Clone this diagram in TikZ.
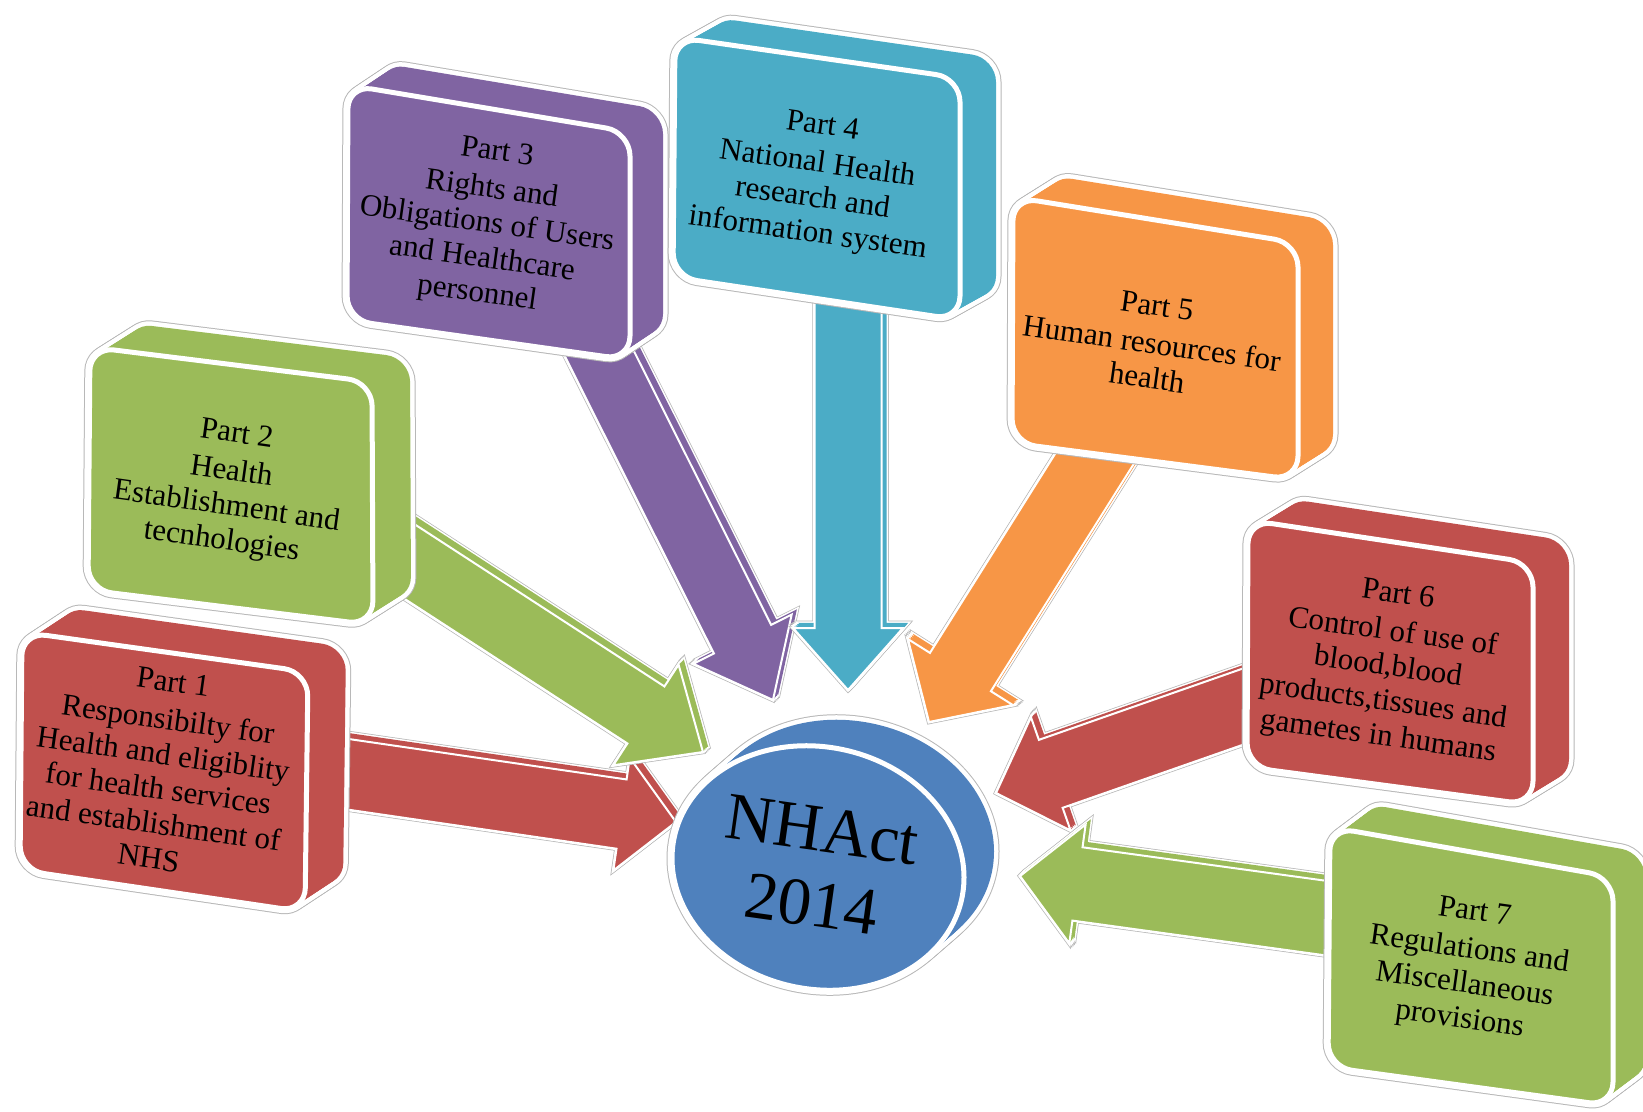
\documentclass[tikz,border=0pt]{standalone}
\usepackage{fontspec}
\setmainfont{Liberation Serif}
\usetikzlibrary{calc}
\definecolor{cred}{HTML}{C0504D}
\definecolor{cgreen}{HTML}{9BBB59}
\definecolor{cpurple}{HTML}{8064A2}
\definecolor{cteal}{HTML}{4BACC6}
\definecolor{corange}{HTML}{F79646}
\definecolor{cblue}{HTML}{4F81BD}
\newdimen\arrAx \newdimen\arrAy \newdimen\arrBx \newdimen\arrBy
\tikzset{
  boxline/.style={draw=black!28, line width=11pt, line join=round, rounded corners=24pt},
  boxwhite/.style={draw=white, line width=9pt, line join=round, rounded corners=24pt},
  boxfill/.style={rounded corners=24pt},
  arrline/.style={draw=black!28, line width=4.5pt, line join=miter},
  arrwhite/.style={draw=white, line width=3pt, line join=miter},
  parttext/.style={align=center, rotate=-8, font=\fontsize{31}{35}\selectfont, text=black, inner sep=0pt},
}
% block arrow from named coordinate #1 to tip #2; #3 half shaft, #4 half head, #5 head length, #6 colour
\newcommand\blockarrow[6]{%
  \pgfextractx{\arrAx}{\pgfpointanchor{#1}{center}}%
  \pgfextracty{\arrAy}{\pgfpointanchor{#1}{center}}%
  \pgfextractx{\arrBx}{\pgfpointanchor{#2}{center}}%
  \pgfextracty{\arrBy}{\pgfpointanchor{#2}{center}}%
  \pgfmathsetmacro\arrlen{veclen(\arrBx-\arrAx,\arrBy-\arrAy)}%
  \pgfmathsetmacro\arrang{atan2(\arrBy-\arrAy,\arrBx-\arrAx)}%
  \pgfmathsetmacro\arrb{\arrlen-#5}%
  \def\arrpath{(0,-#3) -- (\arrb,-#3) -- (\arrb,-#4) -- (\arrlen,0) -- (\arrb,#4) -- (\arrb,#3) -- (0,#3) -- cycle}%
  \foreach \i in {0,...,4}{\draw[arrline, shift={(\i*1.3pt,\i*1.3pt)}, shift={(\arrAx,\arrAy)}, rotate=\arrang] \arrpath;}%
  \foreach \i in {0,...,4}{\draw[arrwhite, shift={(\i*1.3pt,\i*1.3pt)}, shift={(\arrAx,\arrAy)}, rotate=\arrang] \arrpath;}%
  \foreach \i in {0,...,4}{\fill[#6, shift={(\i*1.3pt,\i*1.3pt)}, shift={(\arrAx,\arrAy)}, rotate=\arrang] \arrpath;}%
  \filldraw[fill=#6, draw=white, line width=2pt, line join=miter, shift={(\arrAx,\arrAy)}, rotate=\arrang] \arrpath;%
}
% extruded box: corners TL TR BR BL, depth dx, dy (up), colour
\newcommand\threedbox[7]{%
  \foreach \i in {0,...,20}{\draw[boxline, shift={(\i*#5/20,-\i*#6/20)}] (#1) -- (#2) -- (#3) -- (#4) -- cycle;}%
  \foreach \i in {0,...,20}{\draw[boxwhite, shift={(\i*#5/20,-\i*#6/20)}] (#1) -- (#2) -- (#3) -- (#4) -- cycle;}%
  \foreach \i in {0,...,20}{\fill[#7, boxfill, shift={(\i*#5/20,-\i*#6/20)}] (#1) -- (#2) -- (#3) -- (#4) -- cycle;}%
  \filldraw[fill=#7, draw=white, line width=5pt, line join=round, rounded corners=24pt] (#1) -- (#2) -- (#3) -- (#4) -- cycle;%
}
\begin{document}
\begin{tikzpicture}[x=1pt,y=-1pt]
\useasboundingbox (0,0) rectangle (1643,1111);
\fill[white] (0,0) rectangle (1643,1111);

% arrow ends
\coordinate (s1) at (250,760);  \coordinate (t1) at (676,822);
\coordinate (s2) at (361,530);  \coordinate (t2) at (703,752);
\coordinate (s3) at (570,295);  \coordinate (t3) at (773,700);
\coordinate (s4) at (848,250);  \coordinate (t4) at (848,690);
\coordinate (s5) at (1117,423); \coordinate (t5) at (929,722);
\coordinate (s6) at (1299,687); \coordinate (t6) at (996,793);
\coordinate (s7) at (1376,925); \coordinate (t7) at (1020,876);

% arrows
\blockarrow{s1}{t1}{35}{57}{55}{cred}
\blockarrow{s2}{t2}{34}{60}{68}{cgreen}
\blockarrow{s3}{t3}{32}{55}{68}{cpurple}
\blockarrow{s4}{t4}{33.5}{55}{62}{cteal}
\blockarrow{s5}{t5}{36}{62}{59}{corange}
\blockarrow{s6}{t6}{36}{60}{58}{cred}
\blockarrow{s7}{t7}{37}{60}{58}{cgreen}

% boxes
\threedbox{90,347}{372,382}{373,625}{88,590}{38}{24}{cgreen}
\threedbox{22,632}{308,672}{305,912}{20,870}{38}{25}{cred}
\threedbox{348,85}{630,132}{630,360}{347,320}{33}{22}{cpurple}
\threedbox{675,37}{960,78}{960,320}{673,277}{36}{20}{cteal}
\threedbox{1013,197}{1298,243}{1298,480}{1012,443}{35}{22}{corange}
\threedbox{1248,520}{1533,563}{1533,805}{1247,767}{36}{22}{cred}
\threedbox{1330,827}{1613,877}{1613,1106}{1328,1067}{32}{24}{cgreen}

% central disc
\foreach \i in {0,...,12}{\draw[draw=black!28, line width=11pt, shift={(\i*30/12,-\i*26/12)}, shift={(818,868)}, rotate=-12] (0,0) ellipse (147pt and 121pt);}
\foreach \i in {0,...,12}{\draw[draw=white, line width=9pt, shift={(\i*30/12,-\i*26/12)}, shift={(818,868)}, rotate=-12] (0,0) ellipse (147pt and 121pt);}
\foreach \i in {0,...,12}{\fill[cblue, shift={(\i*30/12,-\i*26/12)}, shift={(818,868)}, rotate=-12] (0,0) ellipse (147pt and 121pt);}
\filldraw[fill=cblue, draw=white, line width=5pt, shift={(818,868)}, rotate=-12] (0,0) ellipse (147pt and 121pt);

% texts
\node[parttext] (p1) at (161,770) {Part 1\\[3pt]Responsibilty for\\Health and eligiblity\\for health services\\and establishment of\\NHS};
\node[parttext] (p2) at (229,489) {Part 2\\[3pt]Health\\Establishment and\\tecnhologies};
\node[parttext] (p3) at (487,224) {Part 3\\[3pt]Rights and\\Obligations of Users\\and Healthcare\\personnel};
\node[parttext] (p4) at (815,181) {Part 4\\[3pt]National Health\\research and\\information system};
\node[parttext] (p5) at (1152,342) {Part 5\\[3pt]Human resources for\\health};
\node[parttext] (p6) at (1388,667) {Part 6\\[3pt]Control of use of\\blood,blood\\products,tissues and\\gametes in humans};
\node[parttext] (p7) at (1467,967) {Part 7\\[3pt]Regulations and\\Miscellaneous\\provisions};
\node[align=center, rotate=-8, font=\fontsize{67}{75}\selectfont, inner sep=0pt] (nhact) at (817,867) {NHAct\\2014};
\end{tikzpicture}
\end{document}
